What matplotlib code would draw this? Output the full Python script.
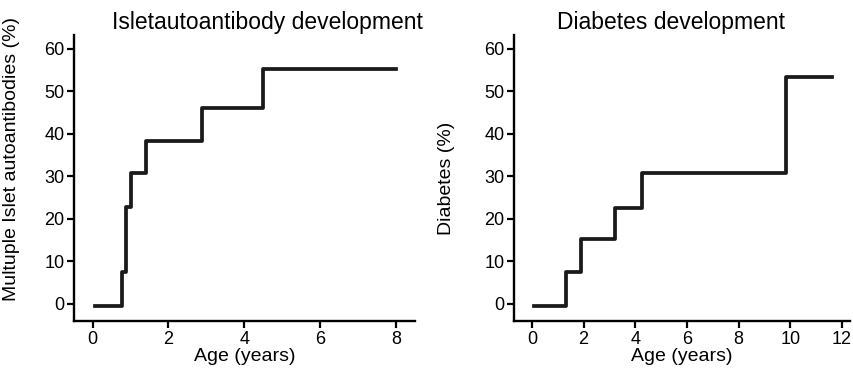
import matplotlib.pyplot as plt

plt.rcParams['font.family'] = ['Liberation Sans', 'DejaVu Sans']

# islet autoantibody curve (step changes)
ab_age = [0.05, 0.78, 0.87, 1.02, 1.41, 2.89, 4.5, 8.0]
ab_pct = [-0.4, 7.5, 22.9, 30.8, 38.4, 46.0, 55.2, 55.2]

# diabetes curve
dm_age = [0.08, 1.3, 1.89, 3.22, 4.25, 9.84, 11.6]
dm_pct = [-0.4, 7.6, 15.3, 22.7, 30.8, 53.5, 53.5]

fig = plt.figure(figsize=(8.54, 3.73), dpi=100)
ax1 = fig.add_axes([0.0867, 0.1394, 0.399, 0.767])
ax2 = fig.add_axes([0.602, 0.1394, 0.393, 0.767])

def style(ax):
    for s in ['top', 'right']:
        ax.spines[s].set_visible(False)
    for s in ['left', 'bottom']:
        ax.spines[s].set_linewidth(1.7)
    ax.tick_params(width=1.6, length=5, labelsize=13, pad=2)
    ax.set_ylim(-4, 63.3)
    ax.set_yticks([0, 10, 20, 30, 40, 50, 60])
    ax.set_xlabel('Age (years)', fontsize=14, labelpad=0.5)

ax1.step(ab_age, ab_pct, where='post', color='#1a1a1a', lw=2.7)
style(ax1)
ax1.set_xlim(-0.49, 8.5)
ax1.set_xticks([0, 2, 4, 6, 8])
ax1.set_ylabel('Multuple Islet autoantibodies (%)', fontsize=14)
ax1.yaxis.set_label_coords(-0.16, 0.565)

ax2.step(dm_age, dm_pct, where='post', color='#1a1a1a', lw=2.7)
style(ax2)
ax2.set_xlim(-0.69, 12.3)
ax2.set_xticks([0, 2, 4, 6, 8, 10, 12])
ax2.set_ylabel('Diabetes (%)', fontsize=14)
ax2.yaxis.set_label_coords(-0.176, 0.5)

fig.text(267 / 854, 1 - 22 / 373, 'Isletautoantibody development',
         ha='center', va='center', fontsize=16.5)
fig.text(671 / 854, 1 - 22 / 373, 'Diabetes development',
         ha='center', va='center', fontsize=16.5)

fig.savefig('out.png', dpi=100)
